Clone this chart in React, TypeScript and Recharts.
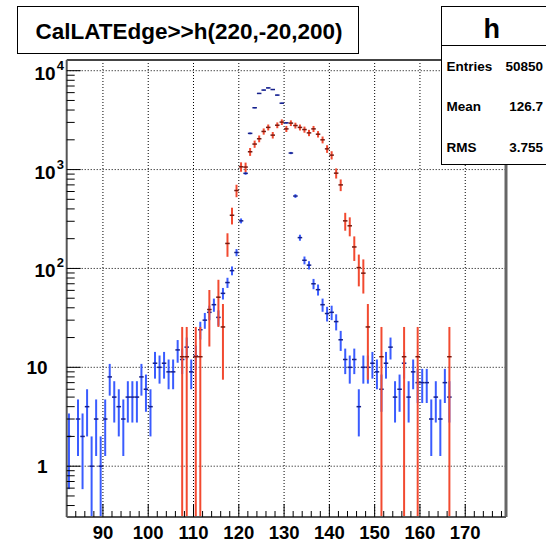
import React from 'react';
import { ScatterChart, Scatter, XAxis, YAxis, ErrorBar, ReferenceLine } from 'recharts';

// ---- data (bin centres, bin width 1) ----
const BLUE_X = [82.5, 84.5, 85.5, 86.5, 87.5, 88.5, 89.5, 90.5, 91.5, 92.5, 93.5, 94.5, 95.5, 96.5, 97.5, 98.5, 99.5, 100.5, 101.5, 102.5, 103.5, 104.5, 105.5, 106.5, 107.5, 108.5, 109.5, 110.5, 111.5, 112.5, 113.5, 114.5, 115.5, 116.5, 117.5, 118.5, 119.5, 120.5, 121.5, 122.5, 123.5, 124.5, 125.5, 126.5, 127.5, 128.5, 129.5, 130.5, 131.5, 132.5, 133.5, 134.5, 135.5, 136.5, 137.5, 138.5, 139.5, 140.5, 141.5, 142.5, 143.5, 144.5, 145.5, 146.5, 147.5, 148.5, 149.5, 150.5, 151.5, 152.5, 153.5, 154.5, 155.5, 156.5, 157.5, 158.5, 159.5, 160.5, 161.5, 162.5, 163.5, 164.5, 165.5, 166.5];
const BLUE_Y = [2, 3, 2, 4, 1, 3, 1, 3, 8, 5, 4, 3, 5, 5, 5, 8, 6, 4, 11, 10, 11, 9, 9, 15, 12, 16, 9, 13, 24, 30, 36, 43, 32, 56, 72, 95, 145, 303, 916, 2323, 4220, 5890, 6370, 6700, 6450, 5665, 4690, 2970, 1470, 540, 205, 121, 108, 70, 61, 43, 35, 36, 29, 19, 12, 10, 12, 4, 10, 10, 11, 9, 6, 11, 16, 5, 6, 11, 5, 9, 7, 7, 7, 3, 5, 3, 7, 5];

const RED_X = [107.5, 108.5, 110.5, 111.5, 113.5, 115.5, 116.5, 117.5, 118.5, 119.5, 120.5, 121.5, 122.5, 123.5, 124.5, 125.5, 126.5, 127.5, 128.5, 129.5, 130.5, 131.5, 132.5, 133.5, 134.5, 135.5, 136.5, 137.5, 138.5, 139.5, 140.5, 141.5, 142.5, 143.5, 144.5, 145.5, 146.5, 147.5, 148.5, 151.5, 156.5, 159.5, 166.5];
const RED_Y = [12.8, 12.8, 12.8, 12.8, 38.4, 51.2, 25.6, 179, 345, 614, 1067, 1060, 1514, 1811, 2050, 2430, 2672, 2230, 2810, 3020, 2580, 2950, 2790, 2670, 2540, 2350, 2580, 2280, 2000, 1620, 1400, 920, 700, 303, 270, 165, 102, 89.6, 25.6, 12.8, 12.8, 12.8, 12.8];
const RED_WEIGHT = 12.8; // weight of one entry in the scaled histogram

const X_MAJOR = [90, 100, 110, 120, 130, 140, 150, 160, 170];
const X_MINOR = [84, 86, 88, 92, 94, 96, 98, 102, 104, 106, 108, 112, 114, 116, 118, 122, 124, 126, 128, 132, 134, 136, 138, 142, 144, 146, 148, 152, 154, 156, 158, 162, 164, 166, 168, 172, 174, 176, 178];
const Y_MAJOR = [1, 10, 100, 1000, 10000];
const Y_MINOR = [0.4, 0.5, 0.6, 0.7, 0.8, 0.9, 2, 3, 4, 5, 6, 7, 8, 9, 20, 30, 40, 50, 60, 70, 80, 90, 200, 300, 400, 500, 600, 700, 800, 900, 2000, 3000, 4000, 5000, 6000, 7000, 8000, 9000];
const Y_LABELS: Record<number, [string, string]> = { 1: ['1', ''], 10: ['10', ''], 100: ['10', '2'], 1000: ['10', '3'], 10000: ['10', '4'] };

const X_MIN = 82;
const X_MAX = 179;
const Y_MIN = 0.3063;
const Y_MAX = 12830;

const TITLE = 'CalLATEdge>>h(220,-20,200)';
const STATS_NAME = 'h';
const STATS: [string, string][] = [['Entries', '50850'], ['Mean', '126.7'], ['RMS', '3.755']];

const FONT = '"Liberation Sans", Arial, Helvetica, sans-serif';

const blueData = BLUE_X.map((x, i) => {
  const v = BLUE_Y[i];
  const e = Math.sqrt(v);
  return { x, y: v, ex: 0.5, ey: [Math.min(e, v - Y_MIN), e] };
});
const redData = RED_X.map((x, i) => {
  const v = RED_Y[i];
  const e = Math.sqrt(v * RED_WEIGHT);
  return { x, y: v, ex: 0.5, ey: [Math.min(e, v - Y_MIN), e] };
});

const XTick = (props: any) => {
  const { x, y, payload } = props;
  const v = payload.value;
  const major = X_MAJOR.includes(v);
  return (
    <g>
      <line x1={x} x2={x} y1={y} y2={y - (major ? 13 : 6)} stroke="#000" strokeWidth={1} />
      {major && (
        <text x={x} y={y + 22} textAnchor="middle" fontFamily={FONT} fontWeight="bold" fontSize={18.5} fill="#000">
          {v}
        </text>
      )}
    </g>
  );
};

const YTick = (props: any) => {
  const { x, y, payload } = props;
  const v = payload.value;
  const lab = Y_LABELS[v];
  const major = !!lab;
  return (
    <g>
      <line x1={x} x2={x + (major ? 14 : 8)} y1={y} y2={y} stroke="#000" strokeWidth={1} />
      {lab && lab[1] === '' && (
        <text x={x - 19} y={y + 7} textAnchor="end" fontFamily={FONT} fontWeight="bold" fontSize={19} fill="#000">
          {lab[0]}
        </text>
      )}
      {lab && lab[1] !== '' && (
        <text x={x - 11} y={y + 9} textAnchor="end" fontFamily={FONT} fontWeight="bold" fontSize={19} fill="#000">
          {lab[0]}
        </text>
      )}
      {lab && lab[1] !== '' && (
        <text x={x - 10} y={y - 1} textAnchor="start" fontFamily={FONT} fontWeight="bold" fontSize={13} fill="#000">
          {lab[1]}
        </text>
      )}
    </g>
  );
};

const noShape = () => <g />;

export default function App() {
  return (
    <div style={{ position: 'fixed', left: 0, top: 0, width: 546, height: 542, overflow: 'hidden', background: '#fff' }}>
      <ScatterChart width={546} height={542} margin={{ top: 60, right: 40, bottom: 0, left: 0 }}>
        <XAxis
          type="number"
          dataKey="x"
          domain={[X_MIN, X_MAX]}
          allowDataOverflow
          ticks={[...X_MINOR, ...X_MAJOR].sort((a, b) => a - b)}
          interval={0}
          tickSize={0}
          tickMargin={0}
          tickLine={false}
          tick={<XTick />}
          height={25}
          axisLine={{ stroke: '#555', strokeWidth: 2 }}
        />
        <YAxis
          type="number"
          dataKey="y"
          scale="log"
          domain={[Y_MIN, Y_MAX]}
          allowDataOverflow
          ticks={[...Y_MINOR, ...Y_MAJOR].sort((a, b) => a - b)}
          interval={0}
          tickSize={0}
          tickMargin={0}
          tickLine={false}
          tick={<YTick />}
          width={66.7}
          axisLine={{ stroke: '#555', strokeWidth: 2 }}
        />
        {X_MAJOR.map((v) => (
          <ReferenceLine key={'gx' + v} x={v} stroke="#000" strokeWidth={1} strokeDasharray="1 2" />
        ))}
        {Y_MAJOR.map((v) => (
          <ReferenceLine key={'gy' + v} y={v} stroke="#000" strokeWidth={1} strokeDasharray="1 2" />
        ))}
        <ReferenceLine y={Y_MAX} stroke="#444" strokeWidth={2} />
        <ReferenceLine x={X_MAX} stroke="#666" strokeWidth={3} />
        <Scatter data={blueData} shape={noShape} isAnimationActive={false} legendType="none">
          <ErrorBar dataKey="ey" direction="y" width={0} stroke="#3a5cff" strokeWidth={2} isAnimationActive={false} />
          <ErrorBar dataKey="ex" direction="x" width={0} stroke="#16208a" strokeWidth={1.5} isAnimationActive={false} />
        </Scatter>
        <Scatter data={redData} shape={noShape} isAnimationActive={false} legendType="none">
          <ErrorBar dataKey="ey" direction="y" width={0} stroke="#f24a30" strokeWidth={2} isAnimationActive={false} />
          <ErrorBar dataKey="ex" direction="x" width={0} stroke="#7a1a10" strokeWidth={1.5} isAnimationActive={false} />
        </Scatter>
      </ScatterChart>
      <svg width={546} height={542} style={{ position: 'absolute', left: 0, top: 0, pointerEvents: 'none' }}>
        <rect x={17.5} y={6.5} width={341} height={47} fill="#fff" stroke="#000" strokeWidth={1} />
        <text x={189} y={38.5} textAnchor="middle" fontFamily={FONT} fontWeight="bold" fontSize={22.5} fill="#000">
          {TITLE}
        </text>
        <rect x={441.5} y={6.5} width={120} height={158} fill="#fff" stroke="#000" strokeWidth={1} />
        <line x1={441.5} x2={562} y1={45.5} y2={45.5} stroke="#000" strokeWidth={1} />
        <text x={491.7} y={38} textAnchor="middle" fontFamily={FONT} fontWeight="bold" fontSize={27} fill="#000">
          {STATS_NAME}
        </text>
        {STATS.map(([k, v], i) => (
          <g key={k}>
            <text x={446.5} y={70.5 + i * 40.5} fontFamily={FONT} fontWeight="bold" fontSize={13.5} fill="#000">
              {k}
            </text>
            <text x={543} y={70.5 + i * 40.5} textAnchor="end" fontFamily={FONT} fontWeight="bold" fontSize={13.5} fill="#000">
              {v}
            </text>
          </g>
        ))}
      </svg>
    </div>
  );
}
